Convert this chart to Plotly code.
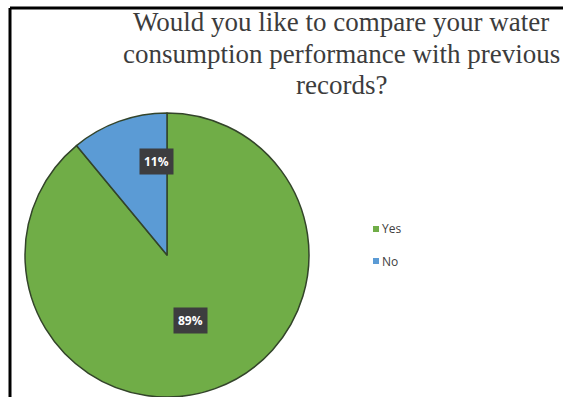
import math
import plotly.graph_objects as go

# Survey answers
labels = ["Yes", "No"]
shares = [89, 11]
colors = ["#70AD47", "#5B9BD5"]
title_lines = [
    "Would you like to compare your water",
    "consumption performance with previous",
    "records?",
]

W, H = 563, 397

# pie placement in pixels (left, top, right, bottom)
pie_box = (25, 113, 309, 397)
# label placement: (fraction along the slice, fraction of the radius)
label_place = [(0.5, 0.49), (0.83, 0.66)]


def px(x):
    return x / W


def py(y):
    return 1 - y / H


fig = go.Figure()

fig.add_trace(go.Pie(
    labels=labels,
    values=shares,
    sort=False,
    direction="clockwise",
    rotation=0,
    marker=dict(colors=colors, line=dict(color="#33442a", width=1.5)),
    textinfo="none",
    hoverinfo="label+percent",
    showlegend=False,
    domain=dict(x=[px(pie_box[0]), px(pie_box[2])], y=[py(pie_box[3]), py(pie_box[1])]),
))

# data labels in dark boxes, positioned from the slice angles
cx = (pie_box[0] + pie_box[2]) / 2
cy = (pie_box[1] + pie_box[3]) / 2
R = (pie_box[2] - pie_box[0]) / 2
total = sum(shares)
start = 0.0
annotations = []
for val, (along, rad) in zip(shares, label_place):
    span = 360.0 * val / total
    theta = math.radians(start + along * span)
    lx = cx + rad * R * math.sin(theta)
    ly = cy - rad * R * math.cos(theta)
    annotations.append(dict(
        x=px(lx), y=py(ly), xref="paper", yref="paper",
        xanchor="center", yanchor="middle",
        text=f"<b>{round(100 * val / total)}%</b>",
        showarrow=False,
        font=dict(family="Open Sans, Noto Sans, sans-serif", size=12, color="white"),
        bgcolor="#3d3d3f", borderpad=4,
    ))
    start += span

# title, one annotation per line
title_baselines = [22, 54, 85]
for line, yc in zip(title_lines, title_baselines):
    annotations.append(dict(
        x=px(341), y=py(yc), xref="paper", yref="paper",
        xanchor="center", yanchor="middle",
        text=line, showarrow=False,
        font=dict(family="Times New Roman, Liberation Serif, serif", size=27, color="#3c3c3c"),
    ))

# legend drawn as swatches with text
shapes = []
leg_x, leg_y0, leg_step = 373, 229, 32
for i, (lab, col) in enumerate(zip(labels, colors)):
    yc = leg_y0 + i * leg_step
    shapes.append(dict(
        type="rect", xref="paper", yref="paper",
        x0=px(leg_x), x1=px(leg_x + 6), y0=py(yc + 3), y1=py(yc - 3),
        fillcolor=col, line=dict(width=0),
    ))
    annotations.append(dict(
        x=px(leg_x + 7), y=py(yc), xref="paper", yref="paper",
        xanchor="left", yanchor="middle", text=lab, showarrow=False,
        font=dict(family="Open Sans, Noto Sans, sans-serif", size=12, color="#404040"),
    ))

# frame lines (left and top)
shapes.append(dict(type="line", xref="paper", yref="paper",
                   x0=px(10), x1=px(10), y0=py(8), y1=py(H),
                   line=dict(color="black", width=3)))
shapes.append(dict(type="line", xref="paper", yref="paper",
                   x0=px(10), x1=1, y0=py(8), y1=py(8),
                   line=dict(color="black", width=3)))

fig.update_layout(
    width=W, height=H, autosize=False,
    margin=dict(l=0, r=0, t=0, b=0),
    paper_bgcolor="white", plot_bgcolor="white",
    annotations=annotations, shapes=shapes,
    showlegend=False,
)

fig.write_html("out.html")
